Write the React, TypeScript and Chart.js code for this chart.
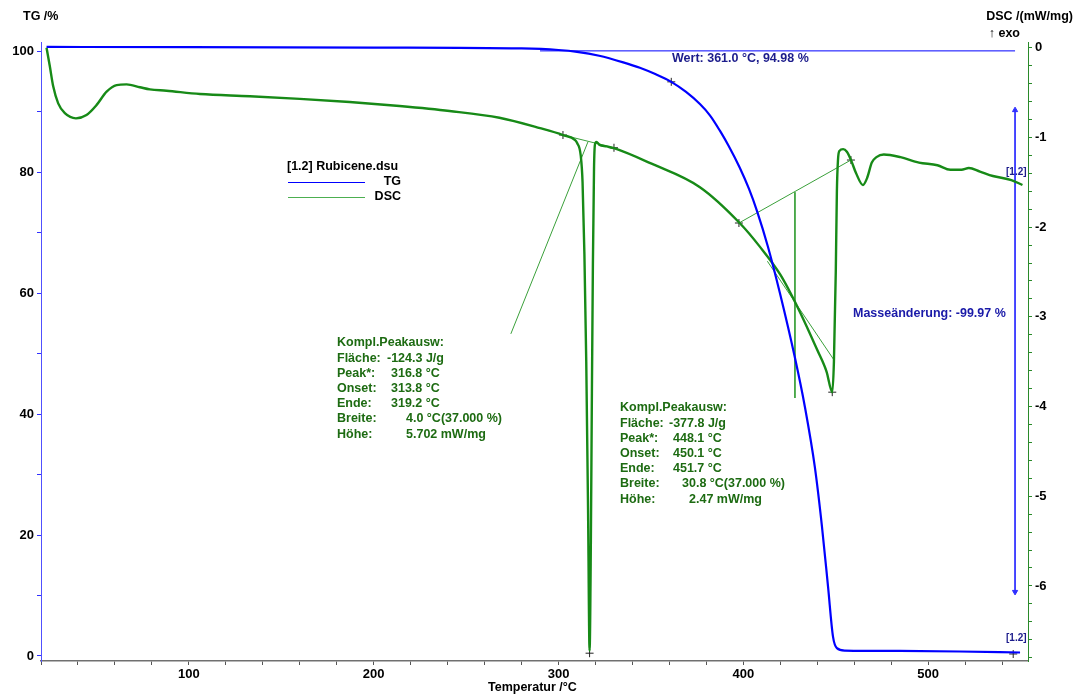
import React, { useEffect, useRef } from 'react';
import { Chart, registerables } from 'chart.js';

Chart.register(...registerables);

// ---- axis ranges ----
const tempMin = 20;
const tempMax = 554;
const tgMin = -0.83;
const tgMax = 101.57;
const dscMin = -6.837;
const dscMax = 0.064;

// ---- tick labels ----
const tempTickLabels = [100, 200, 300, 400, 500];
const tgTickLabels = [0, 20, 40, 60, 80, 100];
const dscTickLabels = [0, -1, -2, -3, -4, -5, -6];

// ---- TG curve (temperature °C, mass %) ----
const tgTemp = [23, 100, 200, 280, 300, 310, 322, 335, 344, 352, 361, 369, 376.5, 382, 387.3, 392, 398, 403, 407.4, 413.3, 419.8, 428, 433.3, 438.7, 442.5, 445.8, 448.5, 450.6, 455, 484.7, 517, 549.7];
const tgValue = [100.75, 100.72, 100.65, 100.5, 100.25, 99.95, 99.3, 98.2, 97.3, 96.3, 94.98, 93.3, 91.3, 89.4, 86.9, 84.4, 80.8, 77.3, 73.6, 67.7, 60.0, 49.2, 41.2, 31.2, 21.5, 11.5, 3.2, 1.3, 0.9, 0.83, 0.74, 0.58];

// ---- DSC curve (temperature °C, mW/mg) ----
const dscTemp = [23, 24.8, 26.6, 29.3, 32.9, 38.9, 44.6, 50, 55.5, 60.9, 66.3, 73.5, 78.9, 87.9, 106, 133, 160, 187, 214, 241, 268, 290, 302.4, 309, 310, 312, 313, 314, 315, 316, 316.8, 317.5, 318, 318.6, 319.2, 319.7, 320.5, 322, 326, 330, 350, 376.5, 398, 409, 420, 430, 440, 445, 448.1, 449, 450, 450.6, 451.2, 452, 454, 456, 458.2, 461, 464.7, 467, 469.5, 472, 476, 485, 495, 505, 512, 518, 522, 528, 535, 545, 551];
const dscValue = [0, -0.21, -0.43, -0.62, -0.73, -0.787, -0.75, -0.64, -0.49, -0.416, -0.408, -0.44, -0.464, -0.479, -0.516, -0.54, -0.57, -0.605, -0.65, -0.705, -0.78, -0.896, -0.973, -1.03, -1.06, -1.2, -1.5, -2.3, -3.5, -5.2, -6.72, -5.5, -4.0, -2.4, -1.35, -1.08, -1.05, -1.08, -1.1, -1.12, -1.29, -1.555, -1.954, -2.22, -2.53, -2.92, -3.37, -3.61, -3.84, -3.5, -2.5, -1.6, -1.25, -1.15, -1.13, -1.16, -1.25, -1.4, -1.53, -1.45, -1.28, -1.22, -1.19, -1.22, -1.28, -1.31, -1.36, -1.36, -1.34, -1.38, -1.43, -1.475, -1.53];

// ---- evaluation construction lines (DSC axis) ----
const peak1TangentTemp = [274.2, 315.9];
const peak1TangentValue = [-3.19, -1.05];
const peak1BaseTemp = [302.4, 330];
const peak1BaseValue = [-0.973, -1.115];
const peak2BaseTemp = [397.6, 458.2];
const peak2BaseValue = [-1.954, -1.252];
const peak2VertTemp = [427.9, 427.9];
const peak2VertValue = [-1.611, -3.905];
const peak2TangentTemp = [413, 449];
const peak2TangentValue = [-2.38, -3.48];

// ---- markers ----
const dscMarkTemp = [302.4, 330, 316.8, 397.6, 458.2, 448.1];
const dscMarkValue = [-0.973, -1.115, -6.75, -1.954, -1.252, -3.84];
const tgMarkTemp = [361, 546];
const tgMarkValue = [94.98, 0.33];

// ---- mass change arrow / reference level (TG axis) ----
const massArrowTemp = [547, 547];
const massArrowValue = [90.3, 10.6];
const tgRefTemp = [290, 547];
const tgRefValue = [100.1, 100.1];

// ---- texts ----
const peak1Labels = ['Fläche:', 'Peak*:', 'Onset:', 'Ende:', 'Breite:', 'Höhe:'];
const peak1Values = ['-124.3 J/g', '316.8 °C', '313.8 °C', '319.2 °C', '4.0 °C(37.000 %)', '5.702 mW/mg'];
const peak2Labels = ['Fläche:', 'Peak*:', 'Onset:', 'Ende:', 'Breite:', 'Höhe:'];
const peak2Values = ['-377.8 J/g', '448.1 °C', '450.1 °C', '451.7 °C', '30.8 °C(37.000 %)', '2.47 mW/mg'];

const FONT = "'Liberation Sans', Arial, sans-serif";

const pts = (xs: number[], ys: number[]) => xs.map((x, i) => ({ x, y: ys[i] }));

const overlayPlugin = {
  id: 'overlay',
  afterDraw(chart: any) {
    const ctx: CanvasRenderingContext2D = chart.ctx;
    ctx.save();
    const t = (s: string, x: number, y: number, font: string, color: string, align: CanvasTextAlign = 'left') => {
      ctx.font = font;
      ctx.fillStyle = color;
      ctx.textAlign = align;
      ctx.textBaseline = 'middle';
      ctx.fillText(s, x, y);
    };
    const bold = `bold 12.5px ${FONT}`;
    // axis titles
    t('TG /%', 23, 17, bold, '#000');
    t('DSC /(mW/mg)', 1073, 17, bold, '#000', 'right');
    t('↑ exo', 1020, 34, bold, '#000', 'right');
    t('Temperatur /°C', 488, 688, bold, '#000');

    // legend
    t('[1.2] Rubicene.dsu', 287, 167, bold, '#000');
    ctx.lineWidth = 1;
    ctx.strokeStyle = '#0000ff';
    ctx.beginPath(); ctx.moveTo(288, 182.5); ctx.lineTo(365, 182.5); ctx.stroke();
    ctx.strokeStyle = '#4caf50';
    ctx.beginPath(); ctx.moveTo(288, 197.5); ctx.lineTo(365, 197.5); ctx.stroke();
    t('TG', 401, 182, bold, '#000', 'right');
    t('DSC', 401, 197, bold, '#000', 'right');

    // peak evaluation blocks
    const green = '#1d6b12';
    const p1x = 337, p1y = 343, lh = 15.2;
    t('Kompl.Peakausw:', p1x, p1y, bold, green);
    const p1off = [50, 54, 54, 54, 69, 69];
    peak1Labels.forEach((l, i) => {
      t(l, p1x, p1y + lh * (i + 1), bold, green);
      t(peak1Values[i], p1x + p1off[i], p1y + lh * (i + 1), bold, green);
    });
    const p2x = 620, p2y = 408;
    t('Kompl.Peakausw:', p2x, p2y, bold, green);
    const p2off = [49, 53, 53, 53, 62, 69];
    peak2Labels.forEach((l, i) => {
      t(l, p2x, p2y + lh * (i + 1), bold, green);
      t(peak2Values[i], p2x + p2off[i], p2y + lh * (i + 1), bold, green);
    });

    // TG annotations
    t('Wert: 361.0 °C, 94.98 %', 672, 59, bold, '#1c1c8c');
    t('Masseänderung: -99.97 %', 853, 314, bold, '#1a1aa8');
    t('[1.2]', 1006, 172, `bold 10px ${FONT}`, '#1c1c8c');
    t('[1.2]', 1006, 638, `bold 10px ${FONT}`, '#1c1c8c');
    ctx.restore();
  },
};

export default function App() {
  const ref = useRef<HTMLCanvasElement | null>(null);
  useEffect(() => {
    if (!ref.current) return;
    const thin = (data: any[], color: string, axis = 'yDSC') => ({
      data,
      yAxisID: axis,
      showLine: true,
      borderColor: color,
      borderWidth: 1,
      pointRadius: 0,
      tension: 0,
    });
    const chart = new Chart(ref.current, {
      type: 'scatter',
      data: {
        datasets: [
          {
            label: 'TG',
            data: pts(tgTemp, tgValue),
            yAxisID: 'yTG',
            showLine: true,
            borderColor: '#0000ff',
            borderWidth: 2.2,
            pointRadius: 0,
            cubicInterpolationMode: 'monotone',
          } as any,
          {
            label: 'DSC',
            data: pts(dscTemp, dscValue),
            yAxisID: 'yDSC',
            showLine: true,
            borderColor: '#178a17',
            borderWidth: 2.4,
            pointRadius: 0,
            cubicInterpolationMode: 'monotone',
          } as any,
          thin(pts(peak1TangentTemp, peak1TangentValue), '#3aa03a'),
          thin(pts(peak1BaseTemp, peak1BaseValue), '#3aa03a'),
          thin(pts(peak2BaseTemp, peak2BaseValue), '#3aa03a'),
          thin(pts(peak2VertTemp, peak2VertValue), '#3aa03a'),
          thin(pts(peak2TangentTemp, peak2TangentValue), '#3aa03a'),
          thin(pts(tgRefTemp, tgRefValue), '#0000ff', 'yTG'),
          {
            ...thin(pts(massArrowTemp, massArrowValue), '#3030ff', 'yTG'),
            pointRadius: 3,
            pointStyle: 'triangle',
            pointBackgroundColor: '#3030ff',
            pointRotation: [0, 180],
          } as any,
          {
            data: pts(dscMarkTemp, dscMarkValue),
            yAxisID: 'yDSC',
            pointStyle: 'cross',
            pointRadius: 4,
            borderColor: '#222',
            borderWidth: 1,
          } as any,
          {
            data: pts(tgMarkTemp, tgMarkValue),
            yAxisID: 'yTG',
            pointStyle: 'cross',
            pointRadius: 4,
            borderColor: '#222',
            borderWidth: 1,
          } as any,
        ],
      },
      options: {
        responsive: false,
        animation: false,
        devicePixelRatio: 1,
        layout: { padding: { top: 42, left: 0, right: 0, bottom: 0 } },
        plugins: { legend: { display: false }, tooltip: { enabled: false } },
        scales: {
          x: {
            type: 'linear',
            position: 'bottom',
            min: tempMin,
            max: tempMax,
            afterFit: (s: any) => { s.height = 34; },
            border: { display: true, color: '#707070', width: 1.5 },
            grid: { drawOnChartArea: false, drawTicks: true, tickLength: 4, tickColor: '#555' },
            ticks: {
              stepSize: 20,
              autoSkip: false,
              includeBounds: false,
              maxRotation: 0,
              padding: 2,
              color: '#000',
              font: { family: FONT, size: 13, weight: 'bold' },
              callback: (v: any) => (tempTickLabels.includes(Math.round(v)) && Math.abs(v - Math.round(v)) < 1e-6 ? String(Math.round(v)) : ''),
            },
          },
          yTG: {
            type: 'linear',
            position: 'left',
            min: tgMin,
            max: tgMax,
            afterFit: (s: any) => { s.width = 41; },
            border: { display: true, color: '#5050ff', width: 1 },
            grid: { drawOnChartArea: false, drawTicks: true, tickLength: 4, tickColor: '#3030ff' },
            ticks: {
              stepSize: 10,
              autoSkip: false,
              includeBounds: false,
              padding: 3,
              color: '#000',
              font: { family: FONT, size: 13, weight: 'bold' },
              callback: (v: any) => {
                const r = Math.round(v);
                return Math.abs(v - r) < 1e-6 && tgTickLabels.includes(r) ? String(r) : '';
              },
            },
          },
          yDSC: {
            type: 'linear',
            position: 'right',
            min: dscMin,
            max: dscMax,
            afterFit: (s: any) => { s.width = 47; },
            border: { display: true, color: '#2a8a2a', width: 1 },
            grid: { drawOnChartArea: false, drawTicks: true, tickLength: 4, tickColor: '#2a8a2a' },
            ticks: {
              stepSize: 0.2,
              autoSkip: false,
              includeBounds: false,
              padding: 3,
              color: '#000',
              font: { family: FONT, size: 13, weight: 'bold' },
              callback: (v: any) => {
                const r = Math.round(v);
                if (Math.abs(v - r) > 1e-6 || !dscTickLabels.includes(r)) return '';
                return r === 0 ? '0' : String(r);
              },
            },
          },
        },
      } as any,
      plugins: [overlayPlugin],
    });
    return () => chart.destroy();
  }, []);
  return (
    <div style={{ position: 'absolute', left: 0, top: 0, width: 1075, height: 695, background: '#fff' }}>
      <canvas ref={ref} width={1075} height={695} style={{ display: 'block' }} />
    </div>
  );
}
